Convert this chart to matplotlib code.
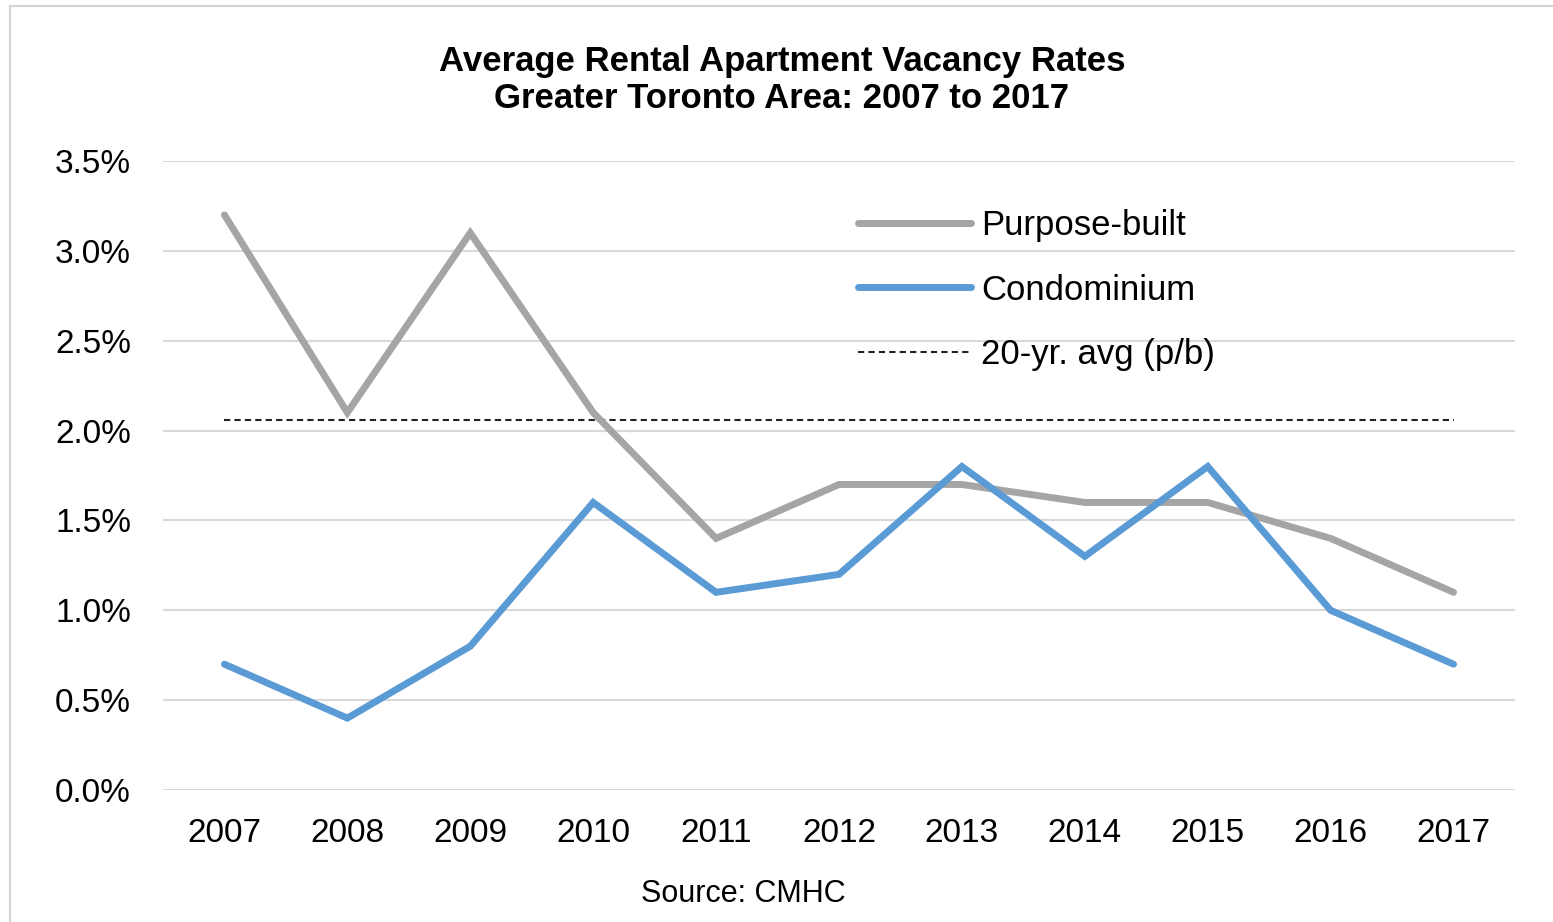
import matplotlib
matplotlib.use("Agg")
import matplotlib.pyplot as plt
from matplotlib.patches import Rectangle

years = ["2007", "2008", "2009", "2010", "2011", "2012", "2013", "2014", "2015", "2016", "2017"]
purpose_built = [3.2, 2.1, 3.1, 2.1, 1.4, 1.7, 1.7, 1.6, 1.6, 1.4, 1.1]
condominium = [0.7, 0.4, 0.8, 1.6, 1.1, 1.2, 1.8, 1.3, 1.8, 1.0, 0.7]
avg_20yr = 2.06
yticks = [0.0, 0.5, 1.0, 1.5, 2.0, 2.5, 3.0, 3.5]

plt.rcParams['font.family'] = ['Liberation Sans', 'DejaVu Sans']

W, H = 1553, 922
fig = plt.figure(figsize=(W / 100, H / 100), dpi=100)
fig.patch.set_facecolor("white")

# outer frame
fig.add_artist(Rectangle((10 / W, -0.05), 1.2, (H - 6) / H + 0.05, transform=fig.transFigure,
                         fill=False, edgecolor="#d4d4d4", linewidth=1.5))

ax = fig.add_axes([163 / W, 1 - 790 / H, (1515 - 163) / W, (790 - 161) / H])
x = list(range(len(years)))

for yv in yticks:
    ax.axhline(yv, color="#d9d9d9", linewidth=1.5, zorder=0)

ax.plot(x, purpose_built, color="#a5a5a5", linewidth=5, solid_capstyle="round",
        solid_joinstyle="miter", label="Purpose-built", zorder=3)
ax.plot(x, condominium, color="#5b9bd5", linewidth=5, solid_capstyle="round",
        solid_joinstyle="miter", label="Condominium", zorder=4)
ax.plot([x[0], x[-1]], [avg_20yr, avg_20yr], color="#222222", linewidth=1.5,
        linestyle=(0, (3, 2)), label="20-yr. avg (p/b)", zorder=2)

ax.set_xlim(-0.5, len(years) - 0.5)
ax.set_ylim(0, 3.5)
ax.set_xticks(x)
ax.set_xticklabels(years, fontsize=24)
ax.set_yticks(yticks)
ax.set_yticklabels([f"{v:.1f}%" for v in yticks], fontsize=24)
ax.tick_params(axis="both", length=0)
ax.tick_params(axis="y", pad=23)
ax.tick_params(axis="x", pad=20)
for s in ax.spines.values():
    s.set_visible(False)
ax.set_facecolor("none")

leg = ax.legend(loc="upper left", bbox_to_anchor=((858 - 163) / (1515 - 163), (790 - 209) / (790 - 161)),
                frameon=False, fontsize=25, handlelength=3.25, handletextpad=0.3,
                labelspacing=0.91, borderpad=0, borderaxespad=0)

fig.text(782 / W, 1 - 61 / H, "Average Rental Apartment Vacancy Rates", ha="center", va="center",
         fontsize=25, fontweight="bold")
fig.text(782 / W, 1 - 98 / H, "Greater Toronto Area: 2007 to 2017", ha="center", va="center",
         fontsize=25, fontweight="bold")
fig.text(743 / W, 1 - 894 / H, "Source: CMHC", ha="center", va="center", fontsize=22)

fig.savefig("out.png", dpi=100)
